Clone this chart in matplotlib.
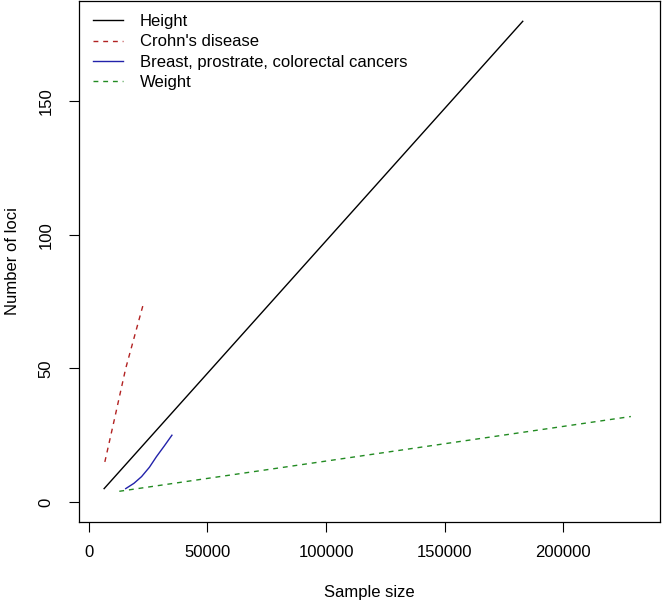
import matplotlib
matplotlib.use("Agg")
import matplotlib.pyplot as plt

plt.rcParams['font.family'] = ['Liberation Sans', 'DejaVu Sans']

# values
height_n = [6400, 183000]
height_loci = [5, 180]

crohn_n = [6700, 11000, 15500, 19500, 22900]
crohn_loci = [15, 32, 50, 63, 74]

cancer_n = [15500, 19000, 22200, 25500, 28500, 31800, 35000]
cancer_loci = [5, 7, 9.5, 13, 17, 21, 25]

weight_n = [12800, 228600]
weight_loci = [4, 32]

xticks = [0, 50000, 100000, 150000, 200000]
yticks = [0, 50, 100, 150]

W, H = 662, 604
fig = plt.figure(figsize=(W / 100, H / 100), dpi=100)
# plot box in pixels: x 79..660, y 1..522
ax = fig.add_axes([79 / W, 1 - 522 / H, (660 - 79) / W, (522 - 1) / H])

ax.plot(height_n, height_loci, color='black', lw=1.0, label='Height')
ax.plot(crohn_n, crohn_loci, color='#b22222', lw=1.0, dashes=(3.5, 3.5), label="Crohn's disease")
ax.plot(cancer_n, cancer_loci, color='#2222aa', lw=1.0, label='Breast, prostrate, colorectal cancers')
ax.plot(weight_n, weight_loci, color='#228b22', lw=1.0, dashes=(3.5, 3.5), label='Weight')

ax.set_xlim(-4200, 240900)
ax.set_ylim(-7.5, 187.6)
ax.set_xticks(xticks)
ax.set_xticklabels([str(t) for t in xticks])
ax.set_yticks(yticks)
ax.set_yticklabels([str(t) for t in yticks], rotation=90, va='center')

ax.tick_params(axis='both', length=7.5, width=0.8, labelsize=12, colors='black')
ax.tick_params(axis='x', pad=9)
ax.tick_params(axis='y', pad=11)
for s in ax.spines.values():
    s.set_linewidth(0.9)

ax.set_xlabel('Sample size', fontsize=12)
ax.xaxis.set_label_coords(0.5, (522 - 592) / 521)
ax.xaxis.label.set_va('center')
ax.set_ylabel('Number of loci', fontsize=12)
ax.yaxis.set_label_coords((13 - 79) / 581, 0.5)
ax.yaxis.label.set_va('center')

ax.legend(loc='upper left', bbox_to_anchor=(0.024, 0.975), frameon=False,
          fontsize=12, handlelength=1.8, handletextpad=1.0, labelspacing=0.32,
          borderaxespad=0, borderpad=0)

fig.savefig('out.png', dpi=100)
